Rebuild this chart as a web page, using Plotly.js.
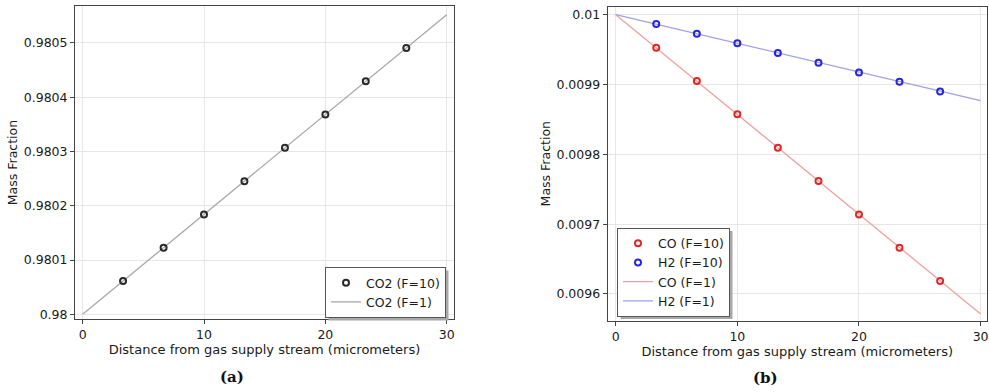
<!DOCTYPE html>
<html>
<head>
<meta charset="utf-8">
<script src="https://cdn.plot.ly/plotly-3.0.1.min.js"></script>
<style>html,body{margin:0;padding:0;background:#fff;}#chart{width:989px;height:392px;}</style>
</head>
<body>
<div id="chart"></div>
<script>
// ---- data ----
const distF10 = [3.33, 6.67, 10, 13.33, 16.67, 20, 23.33, 26.67];
const distF1 = [0, 5, 10, 15, 20, 25, 30];

const co2F10 = [0.9800613, 0.9801227, 0.980184, 0.9802453, 0.9803067, 0.980368, 0.9804293, 0.9804907];
const co2F1 = [0.98, 0.980092, 0.980184, 0.980276, 0.980368, 0.98046, 0.980552];

const coF10 = [0.0099527, 0.0099050, 0.0098573, 0.0098095, 0.0097618, 0.0097140, 0.0096663, 0.0096186];
const h2F10 = [0.0099867, 0.0099728, 0.0099590, 0.0099451, 0.0099312, 0.0099172, 0.0099039, 0.0098900];
const coF1 = [0.01, 0.0099286, 0.0098571, 0.0097857, 0.0097143, 0.0096428, 0.0095713];
const h2F1 = [0.01, 0.0099795, 0.0099590, 0.0099386, 0.0099181, 0.0098976, 0.0098771];

const xTicks = [0, 10, 20, 30];
const xTickText = ['0', '10', '20', '30'];
const yTicksA = [0.98, 0.9801, 0.9802, 0.9803, 0.9804, 0.9805];
const yTickTextA = ['0.98', '0.9801', '0.9802', '0.9803', '0.9804', '0.9805'];
const yTicksB = [0.0096, 0.0097, 0.0098, 0.0099, 0.01];
const yTickTextB = ['0.0096', '0.0097', '0.0098', '0.0099', '0.01'];

const xTitle = 'Distance from gas supply stream (micrometers)';
const yTitle = 'Mass Fraction';
const panelLabels = ['(a)', '(b)'];

// ---- traces ----
const mk = (color) => ({symbol: 'circle-open', size: 6, color: color, line: {width: 2, color: color}});

const traces = [
  {x: distF1, y: co2F1, mode: 'lines', name: 'CO2 (F=1)', line: {color: '#a8a8a8', width: 1.3},
   xaxis: 'x', yaxis: 'y', legend: 'legend', legendrank: 2},
  {x: distF10, y: co2F10, mode: 'markers', name: 'CO2 (F=10)', marker: mk('#2a2a2a'),
   xaxis: 'x', yaxis: 'y', legend: 'legend', legendrank: 1},

  {x: distF1, y: coF1, mode: 'lines', name: 'CO (F=1)', line: {color: '#f0a0a0', width: 1.3},
   xaxis: 'x2', yaxis: 'y2', legend: 'legend2', legendrank: 3},
  {x: distF1, y: h2F1, mode: 'lines', name: 'H2 (F=1)', line: {color: '#a0a0e8', width: 1.3},
   xaxis: 'x2', yaxis: 'y2', legend: 'legend2', legendrank: 4},
  {x: distF10, y: coF10, mode: 'markers', name: 'CO (F=10)', marker: mk('#e02828'),
   xaxis: 'x2', yaxis: 'y2', legend: 'legend2', legendrank: 1},
  {x: distF10, y: h2F10, mode: 'markers', name: 'H2 (F=10)', marker: mk('#2828d8'),
   xaxis: 'x2', yaxis: 'y2', legend: 'legend2', legendrank: 2}
];

const fam = 'DejaVu Sans, sans-serif';
const txt = '#1a1a1a';

const xBase = {
  tickvals: xTicks, ticktext: xTickText, showgrid: true, gridcolor: '#e6e6e6', gridwidth: 1,
  zeroline: false, showline: true, linecolor: '#444', linewidth: 1, mirror: true,
  ticks: 'outside', ticklen: 4, tickcolor: '#444', automargin: false,
  tickfont: {family: fam, size: 12.5, color: txt},
  title: {text: xTitle, font: {family: fam, size: 13, color: txt}, standoff: 2}
};
const yBase = {
  showgrid: true, gridcolor: '#e6e6e6', gridwidth: 1,
  zeroline: false, showline: true, linecolor: '#444', linewidth: 1, mirror: true,
  ticks: 'outside', ticklen: 4, tickcolor: '#444', automargin: false,
  tickfont: {family: fam, size: 12.5, color: txt},
  title: {text: yTitle, font: {family: fam, size: 12.5, color: txt}, standoff: 3}
};
// mirrored inward ticks on top / right edges
const innerTicks = {
  showgrid: false, zeroline: false, showline: false, showticklabels: false,
  ticks: 'inside', ticklen: 4, tickcolor: '#444', automargin: false
};

const legendBase = {
  bgcolor: '#ffffff', bordercolor: '#555', borderwidth: 1,
  font: {family: fam, size: 12.5, color: txt},
  traceorder: 'normal', itemwidth: 30, tracegroupgap: 0
};

const rangeXA = [-0.63, 30.6], rangeYA = [0.9799913, 0.980568];
const rangeXB = [-0.66, 30.5], rangeYB = [0.0095617, 0.0100115];

const layout = {
  width: 989, height: 392,
  margin: {l: 0, r: 0, t: 0, b: 0},
  paper_bgcolor: '#fff', plot_bgcolor: '#fff',
  font: {family: fam, size: 12, color: txt},
  showlegend: true,
  xaxis: Object.assign({}, xBase, {domain: [75/989, 454/989], range: rangeXA, anchor: 'y'}),
  yaxis: Object.assign({}, yBase, {domain: [1 - 319/392, 1 - 6/392], range: rangeYA,
    tickvals: yTicksA, ticktext: yTickTextA, anchor: 'x'}),
  xaxis2: Object.assign({}, xBase, {domain: [607.7/989, 986.7/989], range: rangeXB, anchor: 'y2'}),
  yaxis2: Object.assign({}, yBase, {domain: [1 - 320.7/392, 1 - 6.7/392], range: rangeYB,
    tickvals: yTicksB, ticktext: yTickTextB, anchor: 'x2'}),
  xaxis3: Object.assign({}, innerTicks, {overlaying: 'x', side: 'top', anchor: 'y', range: rangeXA, tickvals: xTicks}),
  yaxis3: Object.assign({}, innerTicks, {overlaying: 'y', side: 'right', anchor: 'x', range: rangeYA, tickvals: yTicksA}),
  xaxis4: Object.assign({}, innerTicks, {overlaying: 'x2', side: 'top', anchor: 'y2', range: rangeXB, tickvals: xTicks}),
  yaxis4: Object.assign({}, innerTicks, {overlaying: 'y2', side: 'right', anchor: 'x2', range: rangeYB, tickvals: yTicksB}),
  legend: Object.assign({}, legendBase, {x: 446/989, xanchor: 'right', y: 1 - 318/392, yanchor: 'bottom'}),
  legend2: Object.assign({}, legendBase, {x: 617/989, xanchor: 'left', y: 1 - 316.5/392, yanchor: 'bottom'}),
  annotations: [
    {text: '<b>' + panelLabels[0] + '</b>', xref: 'paper', yref: 'paper', x: 232/989, y: 1 - 377/392,
     xanchor: 'center', yanchor: 'middle',
     showarrow: false, font: {family: 'DejaVu Serif, serif', size: 15, color: '#111'}},
    {text: '<b>' + panelLabels[1] + '</b>', xref: 'paper', yref: 'paper', x: 765/989, y: 1 - 378/392,
     xanchor: 'center', yanchor: 'middle',
     showarrow: false, font: {family: 'DejaVu Serif, serif', size: 15, color: '#111'}}
  ]
};

Plotly.newPlot('chart', traces, layout, {displayModeBar: false, staticPlot: true}).then(function (gd) {
  // add drop shadows behind the legend boxes, sized from the drawn legends
  const fl = gd._fullLayout;
  const shapes = [];
  ['legend', 'legend2'].forEach(function (k) {
    const node = gd.querySelector('.' + k + ' .bg') || gd.querySelector('g.' + k + ' rect.bg');
    if (!node) return;
    const r = node.getBoundingClientRect();
    const c = gd.getBoundingClientRect();
    const x0 = r.left - c.left + 3, x1 = r.right - c.left + 3;
    const y0 = r.top - c.top + 3, y1 = r.bottom - c.top + 3;
    shapes.push({type: 'rect', xref: 'paper', yref: 'paper',
      x0: x0 / fl.width, x1: x1 / fl.width, y0: 1 - y1 / fl.height, y1: 1 - y0 / fl.height,
      fillcolor: '#a8a8a8', line: {width: 0}, layer: 'above'});
  });
  return Plotly.relayout(gd, {shapes: shapes});
});
</script>
</body>
</html>
